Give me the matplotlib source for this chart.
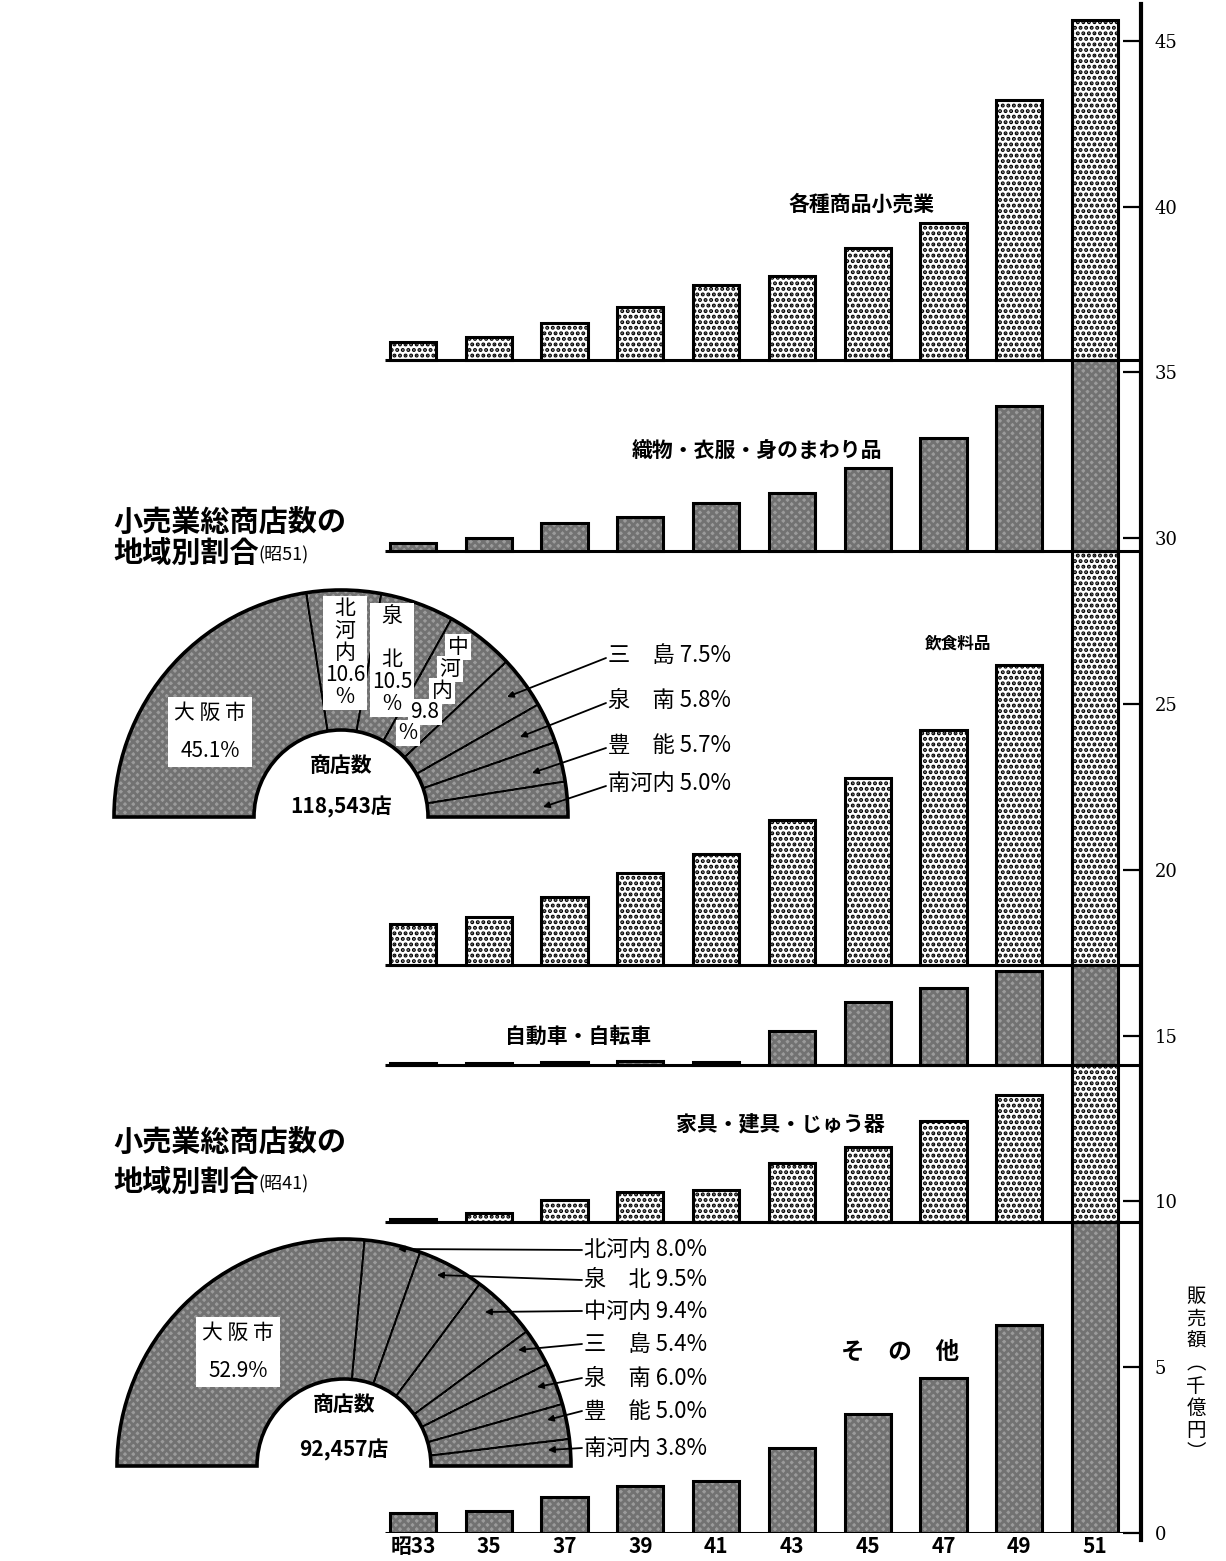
import numpy as np
import matplotlib.pyplot as plt
from matplotlib.patches import Wedge

plt.rcParams['font.family'] = ['Noto Sans CJK JP', 'DejaVu Sans']
plt.rcParams['hatch.linewidth'] = 2.0

# 年次 (昭和)
years = ['昭33', '35', '37', '39', '41', '43', '45', '47', '49', '51']

# 業種別販売額 (千億円) -- bottom band first
sonota = [0.60, 0.66, 1.09, 1.42, 1.57, 2.56, 3.59, 4.67, 6.27, 9.38]
kagu = [0.09, 0.27, 0.66, 0.90, 0.96, 1.78, 2.26, 3.04, 3.83, 4.73]
jidosha = [0.05, 0.07, 0.10, 0.12, 0.10, 1.03, 1.90, 2.32, 2.83, 3.02]
inshoku = [1.24, 1.45, 2.05, 2.77, 3.35, 4.37, 5.64, 7.09, 9.05, 12.48]
orimono = [0.24, 0.39, 0.84, 1.03, 1.45, 1.75, 2.50, 3.41, 4.37, 5.76]
kakushu = [0.54, 0.69, 1.12, 1.60, 2.26, 2.53, 3.38, 4.13, 7.84, 10.26]

# 地域別割合 (%)
regions51 = ['大阪市', '北河内', '泉北', '中河内', '三島', '泉南', '豊能', '南河内']
shares51 = [45.1, 10.6, 10.5, 9.8, 7.5, 5.8, 5.7, 5.0]
regions41 = ['大阪市', '北河内', '泉北', '中河内', '三島', '泉南', '豊能', '南河内']
shares41 = [52.9, 8.0, 9.5, 9.4, 5.4, 6.0, 5.0, 3.8]
shops51 = '118,543店'
shops41 = '92,457店'

W, H = 1226, 1561
Y0 = 1533          # pixel row of value 0
PPU = 33.16        # pixels per 千億円
X0, DX = 413, 75.78
AXIS_X = 1141

GRAY = '#9b9b9b'
HGRAY = '#727272'

fig = plt.figure(figsize=(W / 100, H / 100), dpi=100)
ax = fig.add_axes([0, (H - Y0) / H, AXIS_X / W, Y0 / H])
ax.set_xlim(-X0 / DX, (AXIS_X - X0) / DX)
ax.set_ylim(0, Y0 / PPU)

bands = [
    ('その他', sonota, 'gray'),
    ('家具', kagu, 'dots'),
    ('自動車', jidosha, 'gray'),
    ('飲食料品', inshoku, 'dots'),
    ('織物', orimono, 'gray'),
    ('各種', kakushu, 'dots'),
]

x = np.arange(len(years))
base = 0.0
for name, vals, style in bands:
    if style == 'dots':
        ax.bar(x, vals, bottom=base, width=0.61, color='white', edgecolor='black',
               linewidth=0, hatch='...', zorder=2)
    else:
        ax.bar(x, vals, bottom=base, width=0.61, color=GRAY, edgecolor=HGRAY,
               linewidth=0, hatch='xxxx', zorder=2)
    ax.bar(x, vals, bottom=base, width=0.61, fill=False, edgecolor='black',
           linewidth=2.2, zorder=3)
    ax.hlines(base, -0.37, ax.get_xlim()[1], color='black', linewidth=2.2, zorder=4)
    base += vals[-1]

for s in ['top', 'left', 'bottom']:
    ax.spines[s].set_visible(False)
ax.spines['right'].set_linewidth(3)
ax.spines['right'].set_bounds(-0.2, 46.1)
ax.yaxis.tick_right()
ax.set_yticks(range(0, 50, 5))
ax.tick_params(axis='y', direction='in', length=13, width=1.6, pad=10,
               labelsize=13)
for lab in ax.get_yticklabels():
    lab.set_fontfamily('DejaVu Serif')
ax.set_xticks(x, years)
ax.tick_params(axis='x', length=0, pad=2, labelsize=15)
for lab in ax.get_xticklabels():
    lab.set_fontweight('bold')
ax.patch.set_visible(False)

# half-donut charts of shop counts
R_OUT, R_IN = 227, 87


def half_donut(cx, cy, shares):
    S = 2.5 * R_OUT
    pax = fig.add_axes([(cx - S / 2) / W, (H - cy - S / 2) / H, S / W, S / H])
    vals = list(shares) + [sum(shares)]
    wedges, _ = pax.pie(vals, startangle=180, counterclock=False, radius=1,
                        wedgeprops=dict(width=1 - R_IN / R_OUT, linewidth=1.3))
    for w in wedges[:-1]:
        w.set_facecolor(GRAY)
        w.set_edgecolor('black')
    wedges[-1].set_visible(False)
    for w in wedges[:-1]:
        pax.add_patch(Wedge(w.center, w.r, w.theta1, w.theta2, width=w.width,
                            facecolor='none', edgecolor=HGRAY, hatch='xxxx', linewidth=0))
        pax.add_patch(Wedge(w.center, w.r, w.theta1, w.theta2, width=w.width,
                            facecolor='none', edgecolor='black', linewidth=1.3))
    outline, _ = pax.pie([sum(shares), sum(shares)], startangle=180, counterclock=False,
                         radius=1, wedgeprops=dict(width=1 - R_IN / R_OUT, fill=False,
                                                   edgecolor='black', linewidth=2.6))
    outline[-1].set_visible(False)
    return pax


half_donut(341, 817, shares51)
half_donut(344, 1466, shares41)

# overlay in pixel coordinates for the texts
ov = fig.add_axes([0, 0, 1, 1])
ov.set_xlim(0, W)
ov.set_ylim(H, 0)
ov.axis('off')

# band names
ov.text(862, 204, '各種商品小売業', ha='center', va='center', fontsize=15, fontweight='bold')
ov.text(757, 450, '織物・衣服・身のまわり品', ha='center', va='center', fontsize=15, fontweight='bold')
ov.text(958, 643, '飲食料品', ha='center', va='center', fontsize=12, fontweight='bold')
ov.text(578, 1036, '自動車・自転車', ha='center', va='center', fontsize=15, fontweight='bold')
ov.text(780, 1125, '家具・建具・じゅう器', ha='center', va='center', fontsize=15, fontweight='bold')
ov.text(900, 1352, 'そ　の　他', ha='center', va='center', fontsize=17, fontweight='bold')

# y-axis label, written vertically
ov.text(1196, 1375, '\n'.join('販売額︵千億円︶'), ha='center', va='center',
        fontsize=14, linespacing=1.08)

box = dict(facecolor='white', edgecolor='none', pad=1.5)


def title(y1, y2, year):
    ov.text(113, y1, '小売業総商店数の', ha='left', va='center', fontsize=21, fontweight='bold')
    t = ov.text(113, y2, '地域別割合', ha='left', va='center', fontsize=21, fontweight='bold')
    ov.annotate('(' + year + ')', xy=(1.0, 0.12), xycoords=t, ha='left', va='bottom',
                fontsize=13)


title(522, 553, '昭51')
title(1142, 1182, '昭41')

# pie 51 labels
ov.text(210, 732, '大 阪 市\n45.1%', ha='center', va='center', fontsize=15,
        linespacing=1.9, bbox=dict(facecolor='white', edgecolor='none', pad=4))
ov.text(345, 653, '北\n河\n内\n10.6\n%', ha='center', va='center', fontsize=15,
        linespacing=1.0, bbox=box)
ov.text(392, 660, '泉\n\n北\n10.5\n%', ha='center', va='center', fontsize=15,
        linespacing=1.0, bbox=box)
for tx, ty, s in [(458, 647, '中'), (450, 669, '河'), (442, 691, '内'),
                  (425, 712, '9.8'), (408, 733, '%')]:
    ov.text(tx, ty, s, ha='center', va='center', fontsize=15, bbox=box)
ov.text(341, 765, '商店数', ha='center', va='center', fontsize=15, fontweight='bold')
ov.text(341, 807, shops51, ha='center', va='center', fontsize=15, fontweight='bold')

lab51 = ['三　島', '泉　南', '豊　能', '南河内']
tips51 = [(507, 697), (520, 737), (532, 773), (543, 807)]
rows51 = [655, 700, 745, 783]
for name, share, tip, ry in zip(lab51, shares51[4:], tips51, rows51):
    ov.text(608, ry, f'{name} {share:.1f}%', ha='left', va='center', fontsize=16)
    ov.annotate('', xy=tip, xytext=(606, ry + 3),
                arrowprops=dict(arrowstyle='-|>', lw=1.3, color='black',
                                mutation_scale=9, shrinkA=0, shrinkB=0))

# pie 41 labels
ov.text(238, 1352, '大 阪 市\n52.9%', ha='center', va='center', fontsize=15,
        linespacing=1.9, bbox=dict(facecolor='white', edgecolor='none', pad=4))
ov.text(344, 1404, '商店数', ha='center', va='center', fontsize=15, fontweight='bold')
ov.text(344, 1450, shops41, ha='center', va='center', fontsize=15, fontweight='bold')

lab41 = ['北河内', '泉　北', '中河内', '三　島', '泉　南', '豊　能', '南河内']
tips41 = [(398, 1249), (437, 1275), (485, 1312), (518, 1350), (537, 1387),
          (547, 1420), (548, 1450)]
rows41 = [1250, 1280, 1311, 1344, 1378, 1411, 1448]
for name, share, tip, ry in zip(lab41, shares41[1:], tips41, rows41):
    ov.text(584, ry, f'{name} {share:.1f}%', ha='left', va='center', fontsize=16)
    ov.annotate('', xy=tip, xytext=(582, ry),
                arrowprops=dict(arrowstyle='-|>', lw=1.3, color='black',
                                mutation_scale=9, shrinkA=0, shrinkB=0))

fig.savefig('out.png', dpi=100)
